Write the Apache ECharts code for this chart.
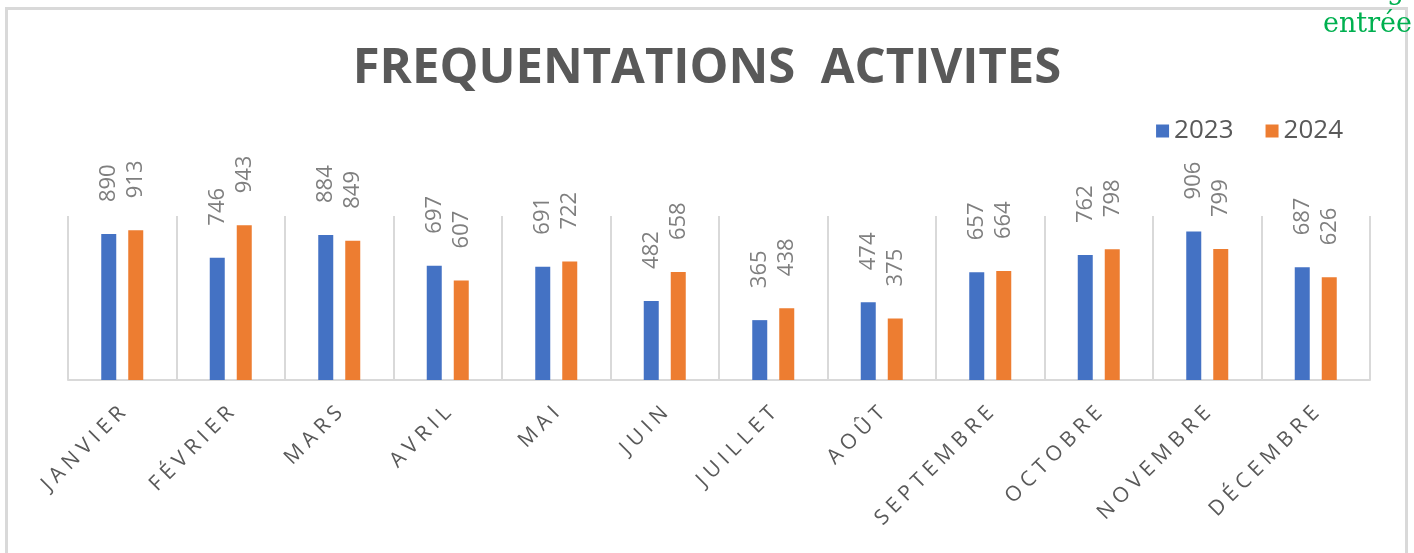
<!DOCTYPE html>
<html>
<head>
<meta charset="utf-8">
<style>
  html, body { margin: 0; padding: 0; background: #fff; }
  #chart { width: 1414px; height: 553px; }
</style>
<script src="https://cdn.jsdelivr.net/npm/echarts@6/dist/echarts.min.js"></script>
</head>
<body>
<div id="chart"></div>
<script>
const months = ['JANVIER', 'FÉVRIER', 'MARS', 'AVRIL', 'MAI', 'JUIN', 'JUILLET', 'AOÛT', 'SEPTEMBRE', 'OCTOBRE', 'NOVEMBRE', 'DÉCEMBRE'];
const values2023 = [890, 746, 884, 697, 691, 482, 365, 474, 657, 762, 906, 687];
const values2024 = [913, 943, 849, 607, 722, 658, 438, 375, 664, 798, 799, 626];

// spaced letters, like the wide tracking of the original
const spaced = s => s.split('').join('\u2005');

const chart = echarts.init(document.getElementById('chart'));

const labelStyle = {
  show: true,
  position: 'top',
  rotate: 90,
  align: 'left',
  verticalAlign: 'middle',
  distance: 32,
  color: '#7f7f7f',
  fontSize: 22,
  fontFamily: 'Open Sans'
};

chart.setOption({
  animation: false,
  color: ['#4472C4', '#ED7D31'],
  title: {
    text: 'FREQUENTATIONS  ACTIVITES',
    left: 'center',
    top: 40,
    textStyle: {
      color: '#595959',
      fontSize: 49,
      fontWeight: 'bold',
      fontFamily: 'Open Sans'
    }
  },
  legend: {
    data: ['2023', '2024'],
    right: 66,
    top: 113,
    icon: 'rect',
    itemWidth: 13,
    itemHeight: 13,
    itemGap: 32,
    textStyle: { color: '#595959', fontSize: 26, fontFamily: 'Open Sans' }
  },
  grid: { left: 68, right: 44, top: 216, bottom: 173 },
  xAxis: {
    type: 'category',
    data: months,
    axisLine: { lineStyle: { color: '#d9d9d9', width: 2 } },
    axisTick: { show: false },
    splitLine: { show: true, lineStyle: { color: '#d9d9d9', width: 2 } },
    axisLabel: {
      rotate: 45,
      margin: 30,
      color: '#595959',
      fontSize: 21,
      fontFamily: 'Open Sans',
      interval: 0,
      formatter: v => spaced(v)
    }
  },
  yAxis: {
    type: 'value',
    min: 0,
    max: 1000,
    show: false,
    splitLine: { show: false }
  },
  series: [
    { name: '2023', type: 'bar', data: values2023, barWidth: 15, barGap: '80%', label: labelStyle },
    { name: '2024', type: 'bar', data: values2024, barWidth: 15, barGap: '80%', label: labelStyle }
  ],
  graphic: [
    {
      type: 'rect',
      shape: { x: 6.5, y: 8.5, width: 1400, height: 620 },
      style: { fill: 'none', stroke: '#d9d9d9', lineWidth: 3 },
      silent: true
    },
    {
      type: 'text',
      right: 2,
      top: 11,
      style: { text: 'entrée', fill: '#00B050', fontSize: 27, fontFamily: 'DejaVu Serif' }
    },
    {
      type: 'text',
      left: 1387,
      top: -22,
      style: { text: 'g', fill: '#00B050', fontSize: 27, fontFamily: 'DejaVu Serif' }
    }
  ]
});
</script>
</body>
</html>
